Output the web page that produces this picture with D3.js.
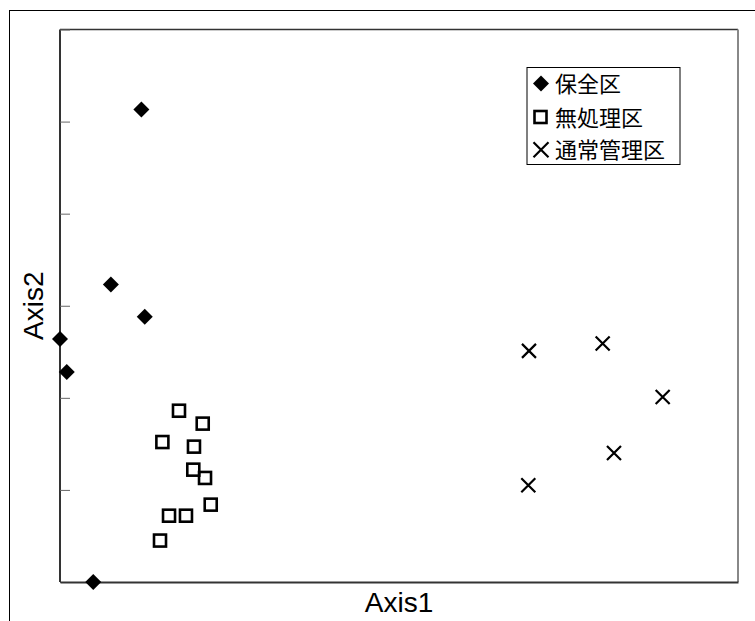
<!DOCTYPE html>
<html>
<head>
<meta charset="utf-8">
<script src="https://cdn.jsdelivr.net/npm/d3@7"></script>
<style>
  html, body { margin: 0; padding: 0; background: #fff; }
  svg { display: block; }
</style>
</head>
<body>
<script>
// ---- data ----
const seriesNames = ["保全区", "無処理区", "通常管理区"];
const hozenX = [12.0, 7.5, 12.5, 0.0, 1.0, 4.9];
const hozenY = [5.13, 3.23, 2.88, 2.64, 2.28, 0.0];
const mushoriX = [17.55, 21.05, 15.1, 19.76, 19.66, 21.39, 22.23, 16.08, 18.58, 14.75];
const mushoriY = [1.86, 1.72, 1.52, 1.47, 1.22, 1.13, 0.84, 0.72, 0.72, 0.45];
const tsujoX = [69.17, 80.04, 88.89, 81.71, 69.07];
const tsujoY = [2.51, 2.59, 2.01, 1.40, 1.05];
const yTicks = [0, 1, 2, 3, 4, 5, 6];
const xLabel = "Axis1";
const yLabel = "Axis2";

const W = 755, H = 621;
const m = { left: 60, right: 17, top: 29.5, bottom: 39 };
const pw = W - m.left - m.right, ph = H - m.top - m.bottom;

const svg = d3.select("body").append("svg").attr("width", W).attr("height", H);

// outer frame (extends past the right/bottom edge)
svg.append("rect").attr("x", 9.5).attr("y", 10.5).attr("width", 800).attr("height", 700)
  .attr("fill", "none").attr("stroke", "#000").attr("stroke-width", 1);

const x = d3.scaleLinear().domain([0, 100]).range([m.left, m.left + pw]);
const y = d3.scaleLinear().domain([0, 6]).range([m.top + ph, m.top]);

// plot frame: top (thin dark) and right (gray)
svg.append("line").attr("x1", x(0)).attr("x2", x(100)).attr("y1", y(6)).attr("y2", y(6))
  .attr("stroke", "#333").attr("stroke-width", 1.5);
svg.append("line").attr("x1", x(100)).attr("x2", x(100)).attr("y1", y(6)).attr("y2", y(0))
  .attr("stroke", "#888").attr("stroke-width", 2);

// y axis: inward ticks, no labels
const yAxis = svg.append("g").attr("transform", `translate(${x(0)},0)`)
  .call(d3.axisLeft(y).tickValues(yTicks).tickSize(-10).tickFormat(""));
yAxis.select(".domain").attr("stroke", "#333").attr("stroke-width", 2)
  .attr("d", `M0,${y(6)}V${y(0)}`);
yAxis.selectAll(".tick line").attr("stroke", "#666").attr("stroke-width", 1);

// x axis: line only
const xAxis = svg.append("g").attr("transform", `translate(0,${y(0)})`)
  .call(d3.axisBottom(x).tickValues([]).tickSizeOuter(0));
xAxis.select(".domain").attr("stroke", "#333").attr("stroke-width", 2);

// axis titles
svg.append("text").attr("x", (x(0) + x(100)) / 2).attr("y", 611.5)
  .attr("text-anchor", "middle").attr("font-family", "Liberation Sans, Arial, sans-serif")
  .attr("font-size", 28).attr("fill", "#000").text(xLabel);
svg.append("text").attr("transform", `translate(43.3,${(y(0) + y(6)) / 2}) rotate(-90)`)
  .attr("text-anchor", "middle").attr("font-family", "Liberation Sans, Arial, sans-serif")
  .attr("font-size", 28).attr("fill", "#000").text(yLabel);

// symbol helpers
function diamond(g, cx, cy, r) {
  g.append("path").attr("d", `M${cx},${cy - r}L${cx + r},${cy}L${cx},${cy + r}L${cx - r},${cy}Z`)
    .attr("fill", "#000");
}
function square(g, cx, cy, s) {
  g.append("rect").attr("x", cx - s / 2).attr("y", cy - s / 2).attr("width", s).attr("height", s)
    .attr("fill", "none").attr("stroke", "#000").attr("stroke-width", 2.6);
}
function cross(g, cx, cy, r) {
  g.append("path").attr("d", `M${cx - r},${cy - r}L${cx + r},${cy + r}M${cx + r},${cy - r}L${cx - r},${cy + r}`)
    .attr("stroke", "#000").attr("stroke-width", 2.2).attr("fill", "none");
}

const pts = svg.append("g");
hozenX.forEach((v, i) => diamond(pts, x(v), y(hozenY[i]), 8));
mushoriX.forEach((v, i) => square(pts, x(v), y(mushoriY[i]), 12));
tsujoX.forEach((v, i) => cross(pts, x(v), y(tsujoY[i]), 7));

// legend
const lg = svg.append("g");
lg.append("rect").attr("x", 527).attr("y", 67.5).attr("width", 153).attr("height", 97)
  .attr("fill", "#fff").attr("stroke", "#000").attr("stroke-width", 1);
const rowY = [83.5, 117, 149.7];
diamond(lg, 541, rowY[0], 8);
square(lg, 540.5, rowY[1], 12);
cross(lg, 541, rowY[2], 7.5);
seriesNames.forEach((n, i) => {
  lg.append("text").attr("x", 555).attr("y", rowY[i] + 8.5)
    .attr("font-family", "Noto Sans CJK JP, sans-serif").attr("font-size", 22)
    .attr("fill", "#000").text(n);
});
</script>
</body>
</html>
